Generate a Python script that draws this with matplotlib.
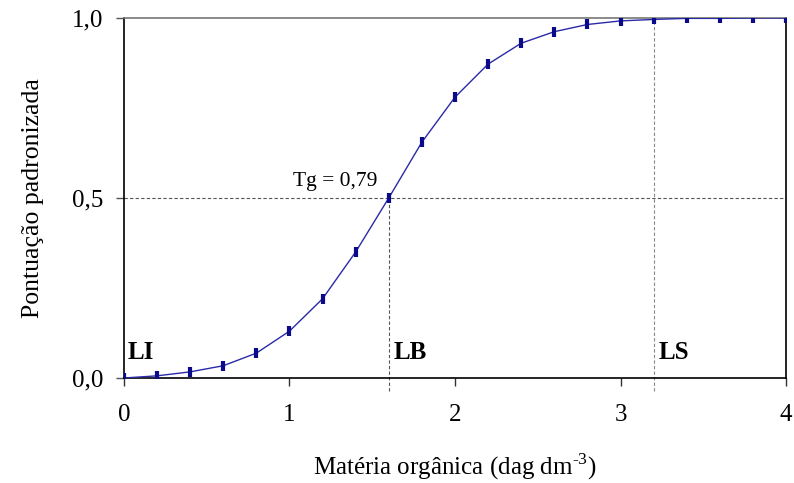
import matplotlib
matplotlib.use("Agg")
import matplotlib.pyplot as plt
import numpy as np
from matplotlib.ticker import FixedLocator

plt.rcParams['font.family'] = ['Liberation Serif', 'DejaVu Serif']
plt.rcParams['mathtext.fontset'] = 'custom'
plt.rcParams['mathtext.rm'] = 'Liberation Serif'

# Standardised score curve for organic matter
materia_organica = [0.0, 0.2, 0.4, 0.6, 0.8, 1.0, 1.2, 1.4, 1.6, 1.8, 2.0,
                    2.2, 2.4, 2.6, 2.8, 3.0, 3.2, 3.4, 3.6, 3.8, 4.0]
pontuacao = [0.0, 0.006, 0.017, 0.034, 0.069, 0.13, 0.22, 0.35, 0.5, 0.655, 0.78,
             0.872, 0.93, 0.962, 0.982, 0.992, 0.996, 0.999, 0.999, 1.0, 1.0]

x_ticks = [0, 1, 2, 3, 4]
y_ticks = [0.0, 0.5, 1.0]
y_tick_labels = ['0,0', '0,5', '1,0']

limite_inferior = 0.0
linha_base = 1.6
limite_superior = 3.2
valor_base = 0.5
tg_label = 'Tg = 0,79'

fig = plt.figure(figsize=(7.94, 4.83), dpi=100)
ax = fig.add_axes([0.156, 0.2174, 0.834, 0.7453])

ax.plot(materia_organica, pontuacao, color='#2a2aa8', lw=1.0, zorder=3)
ax.plot(materia_organica, pontuacao, ls='none', marker='|', markersize=7,
        markeredgewidth=3, color='#0a0a8a', zorder=4)

# reference lines
ax.plot([0, 4], [valor_base, valor_base], ls=(0, (3, 2)), color='#555555', lw=0.8,
        zorder=2, clip_on=False)
ax.plot([linha_base, linha_base], [-0.035, valor_base], ls=(0, (3, 2)),
        color='#555555', lw=0.8, zorder=2, clip_on=False)
ax.plot([limite_superior, limite_superior], [-0.035, pontuacao[16]], ls=(0, (3, 2)),
        color='#888888', lw=0.8, zorder=2, clip_on=False)

ax.set_xlim(0, 4)
ax.set_ylim(0, 1)
ax.xaxis.set_major_locator(FixedLocator(x_ticks))
ax.set_xticklabels([str(t) for t in x_ticks])
ax.yaxis.set_major_locator(FixedLocator(y_ticks))
ax.set_yticklabels(y_tick_labels)

ax.tick_params(axis='x', direction='out', length=6, width=1, pad=13,
               labelsize=18, color='#333333')
ax.tick_params(axis='y', direction='out', length=6, width=1, pad=9,
               labelsize=18, color='#555555')

for side in ['left', 'right', 'bottom']:
    ax.spines[side].set_color('black')
    ax.spines[side].set_linewidth(1.2)
ax.spines['top'].set_color('#777777')
ax.spines['top'].set_linewidth(1.2)

ax.text(1.53, 0.52, tg_label, ha='right', va='bottom', fontsize=15.5)
ax.text(limite_inferior + 0.02, 0.04, 'LI', ha='left', va='bottom',
        fontsize=18, fontweight='bold')
ax.text(linha_base + 0.03, 0.04, 'LB', ha='left', va='bottom',
        fontsize=18, fontweight='bold')
ax.text(limite_superior + 0.03, 0.04, 'LS', ha='left', va='bottom',
        fontsize=18, fontweight='bold')

ax.set_xlabel(r'Matéria orgânica (dag dm$^{\text{-3}}$)', fontsize=18, labelpad=18)
ax.set_ylabel('Pontuação padronizada', fontsize=18.5, labelpad=20)

fig.savefig('out.png', dpi=100)
